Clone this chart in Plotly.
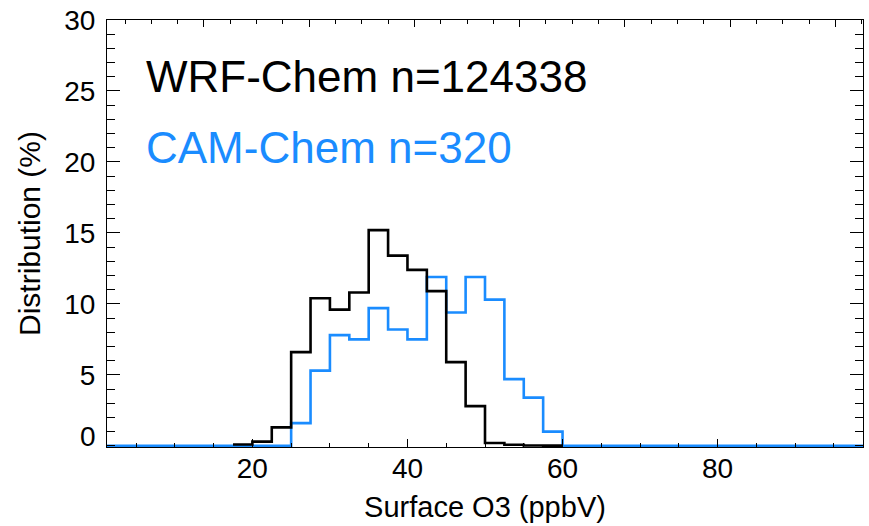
import numpy as np
import plotly.graph_objects as go

# Surface O3 histograms (percent of samples per 2.5 ppbV bin)
bin_width = 2.5

# WRF-Chem: bins starting at 17.5 ppbV
wrf_start = 17.5
wrf_pct = [0.1, 0.3, 1.3, 6.6, 10.4, 9.6, 10.8, 15.2, 13.4, 12.4,
           10.9, 5.9, 2.8, 0.2, 0.08, 0.03, 0.02]

# CAM-Chem: bins covering 0-100 ppbV
cam_start = 0.0
cam_pct = [0, 0, 0, 0, 0, 0, 0, 0, 0, 0,
           1.6, 5.3, 7.8, 7.5, 9.7, 8.2, 7.5, 11.9, 9.4, 11.9,
           10.3, 4.7, 3.4, 1.0, 0, 0, 0, 0, 0, 0,
           0, 0, 0, 0, 0, 0, 0, 0, 0, 0]

wrf_label = "WRF-Chem n=124338"
cam_label = "CAM-Chem n=320"

x_ticks = [20, 40, 60, 80]
y_ticks = [5, 10, 15, 20, 25, 30]

BLACK = "#000000"
BLUE = "#1A8CFF"
FONT = "Liberation Sans, Arial, Helvetica, sans-serif"


def step_xy(start, values):
    edges = start + bin_width * np.arange(len(values) + 1)
    ys = list(values) + [values[-1]]
    return edges, ys


fig = go.Figure()

cx, cy = step_xy(cam_start, cam_pct)
fig.add_trace(go.Scatter(x=cx, y=cy, mode="lines", line_shape="hv",
                         line=dict(color=BLUE, width=2.6),
                         showlegend=False, hoverinfo="skip"))

wx, wy = step_xy(wrf_start, wrf_pct)
fig.add_trace(go.Scatter(x=wx, y=wy, mode="lines", line_shape="hv",
                         line=dict(color=BLACK, width=2.6),
                         showlegend=False, hoverinfo="skip"))

# empty trace so the top (tick-only) axis is built
fig.add_trace(go.Scatter(x=[None], y=[None], xaxis="x2", yaxis="y",
                         showlegend=False, hoverinfo="skip"))

fig.update_layout(
    width=869, height=526,
    margin=dict(l=107, r=5, t=11, b=79),
    paper_bgcolor="white", plot_bgcolor="white",
    font=dict(family=FONT, color="black", size=28),
    xaxis=dict(
        range=[1.25, 98.75], tickvals=x_ticks,
        ticks="inside", ticklen=8, tickwidth=1, tickcolor="black",
        minor=dict(dtick=5, tick0=0, ticks="inside", ticklen=4,
                   tickwidth=1, tickcolor="black", showgrid=False),
        showline=True, linecolor="black", linewidth=1, mirror=False,
        showgrid=False, zeroline=False,
        tickfont=dict(size=28), ticklabelstandoff=-4,
        title=dict(text="Surface O3 (ppbV)", font=dict(size=29), standoff=14),
    ),
    xaxis2=dict(
        overlaying="x", side="top", anchor="y",
        range=[1.58, 145.25], dtick=20, tick0=0,
        ticks="inside", ticklen=7, tickwidth=1, tickcolor="black",
        minor=dict(dtick=5, ticks="inside", ticklen=4, tickwidth=1,
                   tickcolor="black", showgrid=False),
        showticklabels=False, showline=True, linecolor="black", linewidth=1,
        showgrid=False, zeroline=False,
    ),
    yaxis=dict(
        range=[-0.08, 30], tickvals=y_ticks,
        ticks="inside", ticklen=13, tickwidth=1, tickcolor="black",
        minor=dict(dtick=1, tick0=0, ticks="inside", ticklen=8,
                   tickwidth=1, tickcolor="black", showgrid=False),
        showline=True, linecolor="black", linewidth=1, mirror="ticks",
        showgrid=False, zeroline=False,
        tickfont=dict(size=28), ticklabelstandoff=5,
        ticklabeloverflow="allow",
        title=dict(text="Distribution (%)", font=dict(size=30), standoff=14),
    ),
    annotations=[
        dict(text="0", xref="paper", x=0, xanchor="right", xshift=-9,
             yref="y", y=0.67, yanchor="middle", showarrow=False,
             font=dict(size=28, color="black")),
        dict(text=wrf_label, xref="x", x=6.07, xanchor="left",
             yref="y", y=26, yanchor="middle", showarrow=False,
             font=dict(size=44, color=BLACK)),
        dict(text=cam_label, xref="x", x=6.07, xanchor="left",
             yref="y", y=21, yanchor="middle", showarrow=False,
             font=dict(size=44, color=BLUE)),
    ],
)

fig.write_html("out.html")
